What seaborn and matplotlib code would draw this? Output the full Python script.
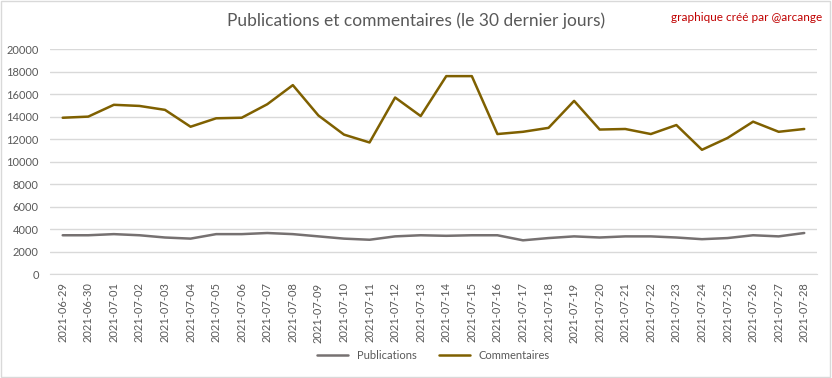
import matplotlib
matplotlib.use("Agg")
import pandas as pd
import numpy as np
import matplotlib.pyplot as plt
import seaborn as sns

# data
dates = pd.date_range("2021-06-29", "2021-07-28").strftime("%Y-%m-%d").tolist()
publications = [3450, 3450, 3550, 3450, 3250, 3150, 3550, 3550, 3650, 3550,
                3350, 3150, 3050, 3350, 3450, 3400, 3450, 3450, 3000, 3200,
                3350, 3250, 3350, 3350, 3250, 3100, 3200, 3450, 3350, 3650]
commentaires = [13900, 14000, 15050, 14950, 14600, 13100, 13850, 13900, 15100, 16800,
                14100, 12400, 11700, 15700, 14050, 17600, 17600, 12450, 12650, 13000,
                15400, 12850, 12900, 12450, 13250, 11050, 12100, 13550, 12650, 12900]

df = pd.DataFrame({"date": dates, "Publications": publications, "Commentaires": commentaires})
df_long = df.melt(id_vars="date", var_name="serie", value_name="valeur")

sns.set_style("white")
plt.rcParams['font.family'] = ['Lato', 'DejaVu Sans']

fig = plt.figure(figsize=(8.32, 3.78), dpi=100)
ax = fig.add_axes([0.060, 0.275, 0.922, 0.595])

sns.lineplot(data=df_long, x="date", y="valeur", hue="serie",
             palette={"Publications": "#767171", "Commentaires": "#7F6000"},
             linewidth=1.8, ax=ax, sort=False, legend=True)

ax.set_ylim(0, 20000)
ax.set_yticks(np.arange(0, 20001, 2000))
ax.set_xlim(-0.5, len(dates) - 0.5)
ax.grid(axis="y", color="#D9D9D9", linewidth=1)
ax.set_axisbelow(True)
for s in ["left", "right", "top"]:
    ax.spines[s].set_visible(False)
ax.spines["bottom"].set_color("#D9D9D9")
ax.tick_params(axis="x", rotation=90, labelsize=8, colors="#595959", length=0, pad=6)
ax.tick_params(axis="y", labelsize=8, colors="#595959", length=0, pad=8)
ax.set_xlabel("")
ax.set_ylabel("")

leg = ax.legend(loc="center", bbox_to_anchor=(0.5, -0.36), ncol=2, frameon=False,
                fontsize=8, handlelength=2.8, columnspacing=2)
for t in leg.get_texts():
    t.set_color("#595959")

fig.text(0.5, 0.945, "Publications et commentaires (le 30 dernier jours)",
         ha="center", va="center", fontsize=12.5, color="#595959")
fig.text(0.988, 0.955, "graphique créé par @arcange", ha="right", va="center",
         fontsize=8.5, color="#C00000")

fig.patches.append(plt.Rectangle((0.001, 0.002), 0.997, 0.995, transform=fig.transFigure,
                                 fill=False, edgecolor="#D9D9D9", linewidth=1))

fig.savefig("out.png", dpi=100)
